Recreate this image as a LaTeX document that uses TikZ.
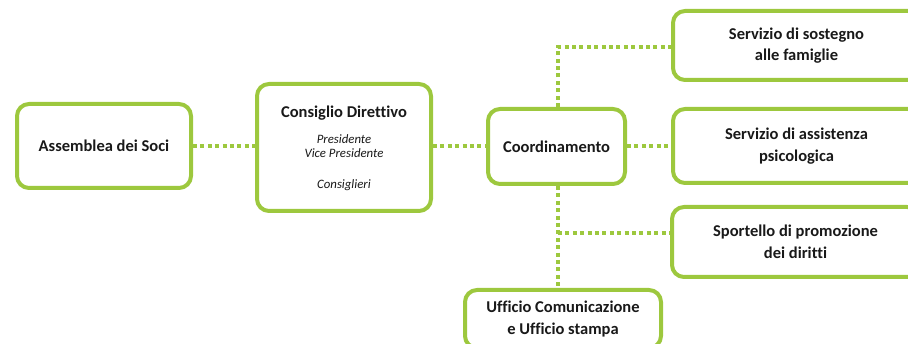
\documentclass[tikz,border=0pt]{standalone}
\usepackage{fontspec}
\setmainfont{Carlito}[Ligatures=NoCommon,Contextuals=NoAlternate]
\definecolor{boxgreen}{RGB}{157,200,62}
\definecolor{txt}{RGB}{25,25,25}
\tikzset{
  orgbox/.style={draw=boxgreen, line width=4pt, rounded corners=12pt, fill=white,
    align=center, text=txt, font=\bfseries\fontsize{16.5}{21.5}\selectfont, inner sep=0pt},
  link/.style={draw=boxgreen, line width=4pt, dash pattern=on 4pt off 3.4pt},
  sub/.style={font=\itshape\fontsize{12.8}{14.5}\selectfont, text=txt, align=center, inner sep=0pt}
}
\begin{document}
\begin{tikzpicture}[x=1pt,y=-1pt]
\useasboundingbox (0,0) rectangle (908,344);
\begin{scope}
\clip (0,0) rectangle (908,344);
\coordinate (tv) at (558,47);
\coordinate (bv) at (558,233);
\node[orgbox, minimum width=174pt, minimum height=84pt] (ass) at (104,146) {Assemblea dei Soci};
\node[orgbox, minimum width=174pt, minimum height=127pt] (cons) at (344,147.5) {};
\node[orgbox, minimum width=137pt, minimum height=75pt] (coord) at (556.5,146.5) {Coordinamento};
\node[orgbox, minimum width=247pt, minimum height=69pt] (sost) at (796.5,45.5) {Servizio di sostegno\\alle famiglie};
\node[orgbox, minimum width=247pt, minimum height=74pt] (assi) at (796.5,146) {Servizio di assistenza\\psicologica};
\node[orgbox, minimum width=247pt, minimum height=70pt] (sport) at (795.5,242) {Sportello di promozione\\dei diritti};
\node[orgbox, minimum width=196pt, minimum height=58pt] (uff) at (563,319) {Ufficio Comunicazione\\e Ufficio stampa};
\node[font=\bfseries\fontsize{16.5}{20}\selectfont, text=txt, inner sep=0pt] (constitle) at (344,113) {Consiglio Direttivo};
\node[sub] (pres) at (344,146) {Presidente\\Vice Presidente};
\node[sub] (consi) at (344,185) {Consiglieri};
\path[link] (ass.east) -- (cons.west |- ass.east);
\path[link] (cons.east |- coord.west) -- (coord.west);
\path[link] (coord.east) -- (assi.west |- coord.east);
\path[link] (coord.north -| tv) -- (tv) -- (tv -| sost.west);
\path[link] (coord.south -| bv) -- (uff.north -| bv);
\path[link] (bv) -- (bv -| sport.west);
\end{scope}
\end{tikzpicture}
\end{document}
